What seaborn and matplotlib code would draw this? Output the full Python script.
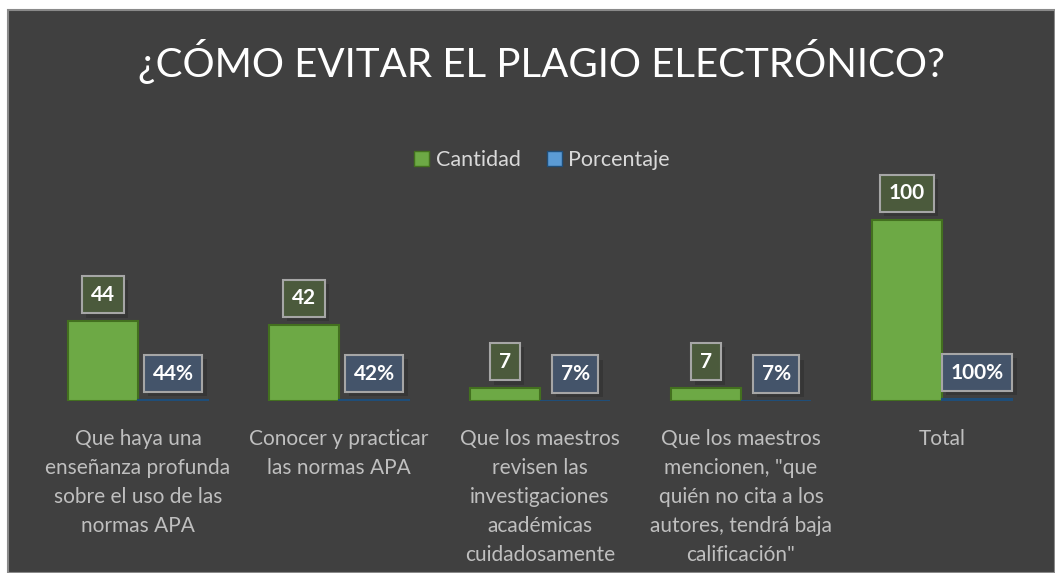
import matplotlib
matplotlib.use("Agg")
import matplotlib.pyplot as plt
from matplotlib.patches import Rectangle, Patch
import matplotlib.patheffects as pe
import seaborn as sns
import pandas as pd

categorias = [
    "Que haya una\nenseñanza profunda\nsobre el uso de las\nnormas APA",
    "Conocer y practicar\nlas normas APA",
    "Que los maestros\nrevisen las\ninvestigaciones\nacadémicas\ncuidadosamente",
    "Que los maestros\nmencionen, \"que\nquién no cita a los\nautores, tendrá baja\ncalificación\"",
    "Total",
]
cantidad = [44, 42, 7, 7, 100]
porcentaje = [0.44, 0.42, 0.07, 0.07, 1.00]
series = ["Cantidad", "Porcentaje"]
titulo = "¿CÓMO EVITAR EL PLAGIO ELECTRÓNICO?"

sns.set_theme(style="white")
plt.rcParams['font.family'] = ['Lato', 'DejaVu Sans']

df = pd.DataFrame({
    "categoria": categorias * 2,
    "serie": [series[0]] * len(categorias) + [series[1]] * len(categorias),
    "valor": cantidad + porcentaje,
})

W, H = 1055, 573
fig = plt.figure(figsize=(W / 100, H / 100), dpi=100)
fig.patch.set_facecolor("white")
bg = "#404040"
fig.patches.append(Rectangle((8 / W, 0), 1 - 8 / W, 1 - 10 / H, transform=fig.transFigure,
                             facecolor=bg, edgecolor="#8a8a8a", linewidth=1.5, zorder=-5))

ax = fig.add_axes([37.5 / W, 172 / H, 1005 / W, 217.2 / H])
ax.set_facecolor("none")
ax.set_zorder(2)

colores = {"Cantidad": "#6DA945", "Porcentaje": "#5B9BD5"}
sns.barplot(data=df, x="categoria", y="valor", hue="serie", palette=colores,
            width=0.7, ax=ax, legend=False, saturation=1)

bordes = ["#43701f", "#1f4e79"]
etiquetas = [[str(v) for v in cantidad], [f"{round(v*100)}%" for v in porcentaje]]
cajas = ["#4b5a3c", "#44546a"]
sombra = [pe.SimplePatchShadow(offset=(3, -3), shadow_rgbFace="black", alpha=0.15), pe.Normal()]
for cont, ec, labs, fc in zip(ax.containers, bordes, etiquetas, cajas):
    for bar in cont:
        bar.set_edgecolor(ec)
        bar.set_linewidth(1.5)
    txts = ax.bar_label(cont, labels=labs, padding=12, color="white", fontweight="bold", fontsize=15,
                        bbox=dict(boxstyle="square,pad=0.42", facecolor=fc, edgecolor="#a6a6a6",
                                  linewidth=1.5))
    for t in txts:
        t.get_bbox_patch().set_path_effects(sombra)

ax.set_ylim(0, 120)
ax.set_xlim(-0.5, 4.5)
ax.set_xlabel("")
ax.set_ylabel("")
ax.set_yticks([])
for s in ax.spines.values():
    s.set_visible(False)
ax.tick_params(axis="x", length=0, pad=20, labelsize=15, labelcolor="#bfbfbf")
for t in ax.get_xticklabels():
    t.set_linespacing(1.57)

cx = 542 / W
fig.text(cx, 1 - 62 / H, titulo, ha="center", va="center", color="white", fontsize=29)

handles = [Patch(facecolor=colores[s], edgecolor=e, linewidth=1) for s, e in zip(series, bordes)]
fig.legend(handles, series, loc="center", bbox_to_anchor=(cx, 1 - 160 / H), ncol=2, frameon=False,
           handlelength=0.7, handleheight=0.7, handletextpad=0.3, columnspacing=1.2,
           fontsize=15.5, labelcolor="#d9d9d9")

fig.savefig("out.png", dpi=100, facecolor=fig.get_facecolor())
